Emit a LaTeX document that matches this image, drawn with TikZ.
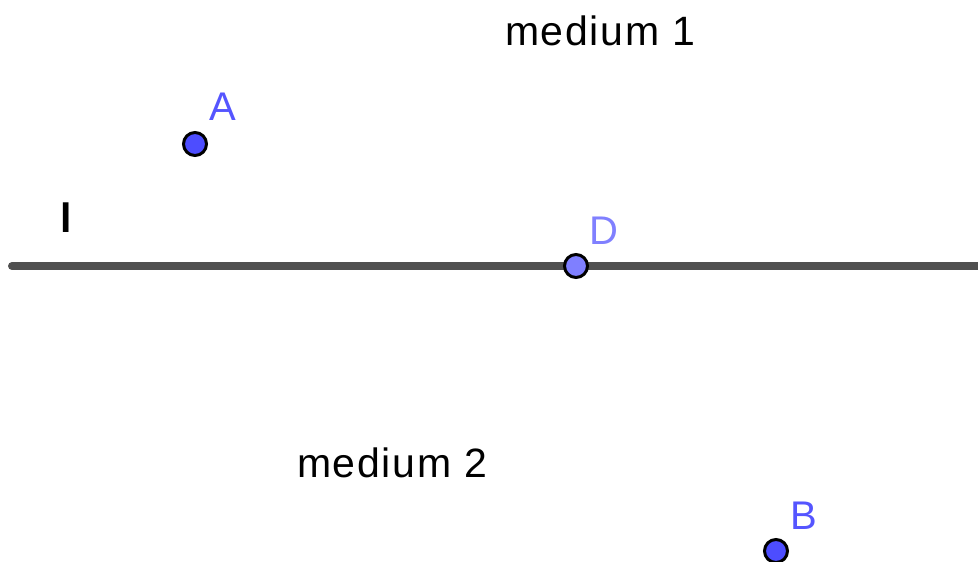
\documentclass[tikz,border=0pt]{standalone}
\usepackage{fontspec}
\setmainfont{Liberation Sans}
\newfontfamily\spacedfont[LetterSpace=4]{Liberation Sans}
\definecolor{ptblue}{HTML}{4D4DFF}
\definecolor{ptlight}{HTML}{7F7FFF}
\definecolor{lblblue}{HTML}{5555FF}
\definecolor{lbllight}{HTML}{8080FF}
\definecolor{linegray}{HTML}{505050}
\begin{document}
\begin{tikzpicture}[x=1pt,y=1pt,
  pt/.style={circle,draw=black,line width=3pt,minimum size=23pt,inner sep=0pt,fill=ptblue},
  ptl/.style={pt,fill=ptlight},
  txt/.style={inner sep=0pt,anchor=base west,font=\spacedfont\fontsize{41}{49}\selectfont},
  lbl/.style={inner sep=0pt,anchor=base west,font=\fontsize{40}{48}\selectfont,text=lblblue}]
\useasboundingbox (0,0) rectangle (978,562);
\coordinate (l1) at (12,296);
\coordinate (l2) at (1000,296);
\draw[linegray,line width=8pt,line cap=round] (l1) -- (l2);
\node[txt] (m1) at (505,516) {medium 1};
\node[txt] (m2) at (297,84) {medium 2};
\node[txt,font=\bfseries\fontsize{41}{49}\selectfont] (ll) at (60,329) {l};
\node[pt] (A) at (195,418) {};
\node[ptl] (D) at (576,296) {};
\node[pt] (B) at (776,11) {};
\node[lbl] (lA) at (209,441) {A};
\node[lbl,text=lbllight] (lD) at (589,317) {D};
\node[lbl] (lB) at (790,32) {B};
\end{tikzpicture}
\end{document}
